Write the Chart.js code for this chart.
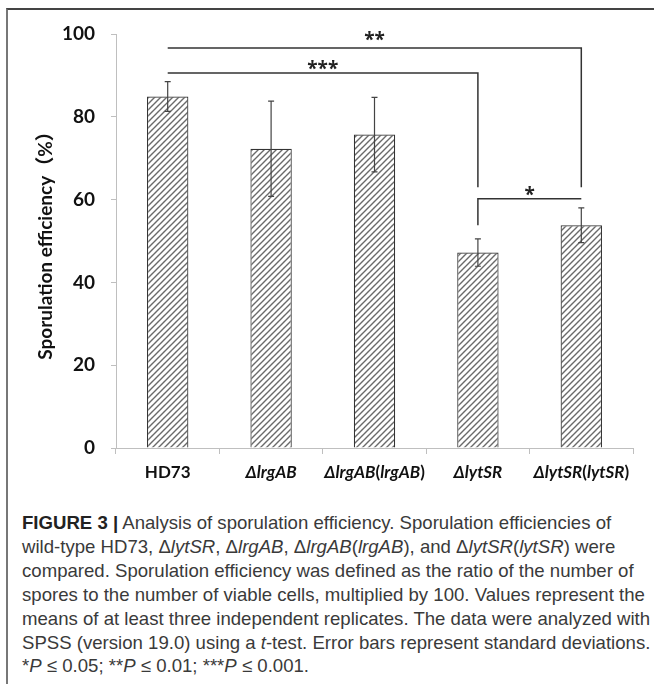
<!DOCTYPE html>
<html>
<head>
<meta charset="utf-8">
<script src="https://cdn.jsdelivr.net/npm/chart.js@4.4.0/dist/chart.umd.min.js"></script>
<style>
  body { margin: 0; background: #fff; width: 654px; height: 684px; overflow: hidden; position: relative; }
  #frame { position: absolute; left: 6px; top: 8px; width: 660px; height: 700px;
           border-left: 2px solid #777; border-top: 2px solid #444; }
  #chart { position: absolute; left: 0; top: 0; }
  #caption { position: absolute; left: 22px; top: 511px; font-family: "Liberation Sans Narrow", "Liberation Sans", sans-serif;
             font-size: 18.6px; line-height: 23.9px; color: #3a3a3a; white-space: nowrap; }
  #caption b { color: #222; }
</style>
</head>
<body>
<div id="frame"></div>
<canvas id="chart" width="654" height="500"></canvas>
<div id="caption">
<b>FIGURE 3 |</b> Analysis of sporulation efficiency. Sporulation efficiencies of<br>
wild-type HD73, Δ<i>lytSR</i>, Δ<i>lrgAB</i>, Δ<i>lrgAB</i>(<i>lrgAB</i>), and Δ<i>lytSR</i>(<i>lytSR</i>) were<br>
compared. Sporulation efficiency was defined as the ratio of the number of<br>
spores to the number of viable cells, multiplied by 100. Values represent the<br>
means of at least three independent replicates. The data were analyzed with<br>
SPSS (version 19.0) using a <i>t</i>-test. Error bars represent standard deviations.<br>
*<i>P</i> ≤ 0.05; **<i>P</i> ≤ 0.01; ***<i>P</i> ≤ 0.001.
</div>
<script>
// values
const categories = ["HD73", "ΔlrgAB", "ΔlrgAB(lrgAB)", "ΔlytSR", "ΔlytSR(lytSR)"];
const means = [84.9, 72.3, 75.7, 47.2, 53.8];
const sds = [3.6, 11.5, 9.0, 3.3, 4.2];
const yTicks = [0, 20, 40, 60, 80, 100];

// significance brackets
const sigText = ["**", "***", "*"];
const sigFrom = [0, 0, 3];
const sigTo = [4, 3, 4];
const sigLevel = [96.6, 90.6, 60.2];
const sigLeftEnd = [null, null, 53.8];
const sigRightEnd = [63, 63, null];

const FONT = "Lato, 'Noto Sans CJK SC', 'Open Sans', sans-serif";

function hatch() {
  const c = document.createElement("canvas");
  c.width = 6; c.height = 6;
  const g = c.getContext("2d");
  g.fillStyle = "#fff";
  g.fillRect(0, 0, 6, 6);
  g.strokeStyle = "#6a6a6a";
  g.lineWidth = 1.4;
  g.beginPath();
  g.moveTo(-1, 7); g.lineTo(7, -1);
  g.moveTo(-1, 1); g.lineTo(1, -1);
  g.moveTo(5, 7); g.lineTo(7, 5);
  g.stroke();
  return g.createPattern(c, "repeat");
}

const errorBars = {
  id: "errorBars",
  afterDatasetsDraw(chart) {
    const { ctx } = chart;
    const y = chart.scales.y;
    const meta = chart.getDatasetMeta(0);
    ctx.save();
    ctx.strokeStyle = "#444";
    ctx.lineWidth = 1.2;
    meta.data.forEach((bar, i) => {
      const top = y.getPixelForValue(means[i] + sds[i]);
      const bot = y.getPixelForValue(means[i] - sds[i]);
      ctx.beginPath();
      ctx.moveTo(bar.x, top); ctx.lineTo(bar.x, bot);
      ctx.moveTo(bar.x - 3, top); ctx.lineTo(bar.x + 3, top);
      ctx.moveTo(bar.x - 3, bot); ctx.lineTo(bar.x + 3, bot);
      ctx.stroke();
    });
    ctx.restore();
  }
};

const brackets = {
  id: "brackets",
  afterDraw(chart) {
    const { ctx } = chart;
    const x = chart.scales.x, y = chart.scales.y;
    ctx.save();
    ctx.strokeStyle = "#333";
    ctx.lineWidth = 1.5;
    ctx.fillStyle = "#222";
    ctx.font = "bold 19px 'Open Sans', sans-serif";
    ctx.textAlign = "center";
    ctx.textBaseline = "alphabetic";
    sigText.forEach((t, i) => {
      const x1 = x.getPixelForValue(sigFrom[i]);
      const x2 = x.getPixelForValue(sigTo[i]);
      const yl = y.getPixelForValue(sigLevel[i]);
      ctx.beginPath();
      if (sigLeftEnd[i] !== null) {
        ctx.moveTo(x1, y.getPixelForValue(sigLeftEnd[i]));
        ctx.lineTo(x1, yl);
      } else {
        ctx.moveTo(x1, yl);
      }
      ctx.lineTo(x2, yl);
      if (sigRightEnd[i] !== null) ctx.lineTo(x2, y.getPixelForValue(sigRightEnd[i]));
      ctx.stroke();
      ctx.fillText(t, (x1 + x2) / 2, yl + (i === 0 ? -2 : 2));
    });
    ctx.restore();
  }
};

// x labels with mixed italic parts
const xLabels = {
  id: "xLabels",
  afterDraw(chart) {
    const { ctx } = chart;
    const x = chart.scales.x;
    const base = x.top + 30;
    ctx.save();
    ctx.fillStyle = "#111";
    ctx.textBaseline = "alphabetic";
    ctx.textAlign = "left";
    categories.forEach((lab, i) => {
      const parts = lab === "HD73" ? [[lab, false]]
        : lab.split(/([()])/).filter(s => s).map(s => [s, s !== "(" && s !== ")"]);
      let w = 0;
      parts.forEach(p => {
        ctx.font = (p[1] ? "italic " : "") + "bold 17px " + FONT;
        w += ctx.measureText(p[0]).width;
      });
      let cx = x.getPixelForValue(i) - w / 2;
      parts.forEach(p => {
        ctx.font = (p[1] ? "italic " : "") + "bold 17px " + FONT;
        ctx.fillText(p[0], cx, base);
        cx += ctx.measureText(p[0]).width;
      });
    });
    ctx.restore();
  }
};

new Chart(document.getElementById("chart"), {
  type: "bar",
  data: {
    labels: categories,
    datasets: [{
      data: means,
      backgroundColor: hatch(),
      borderColor: "#333",
      borderWidth: 1.2,
      categoryPercentage: 1,
      barPercentage: 0.4
    }]
  },
  options: {
    responsive: false,
    animation: false,
    layout: { padding: { left: 8, top: 34, right: 21, bottom: 0 } },
    plugins: { legend: { display: false }, tooltip: { enabled: false } },
    scales: {
      x: {
        grid: { drawOnChartArea: false, drawTicks: true, tickLength: 6, color: "#bfbfbf", offset: true },
        border: { color: "#bfbfbf" },
        ticks: { color: "rgba(0,0,0,0)", font: { size: 15, weight: "bold", family: FONT } },
        afterFit(s) { s.height = 52; }
      },
      y: {
        min: 0, max: 100,
        afterBuildTicks(s) { s.ticks = yTicks.map(v => ({ value: v })); },
        grid: { drawOnChartArea: false, drawTicks: true, tickLength: 5, color: "#bfbfbf" },
        border: { color: "#bfbfbf" },
        ticks: { color: "#111", padding: 16, font: { size: 19, weight: "bold", family: FONT } },
        title: {
          display: true, text: "Sporulation efficiency（%）", color: "#111",
          font: { size: 19, weight: "bold", family: FONT }, padding: { top: 26, bottom: 0 }
        },
        afterFit(s) { s.width = 108; }
      }
    }
  },
  plugins: [errorBars, brackets, xLabels]
});
</script>
</body>
</html>
